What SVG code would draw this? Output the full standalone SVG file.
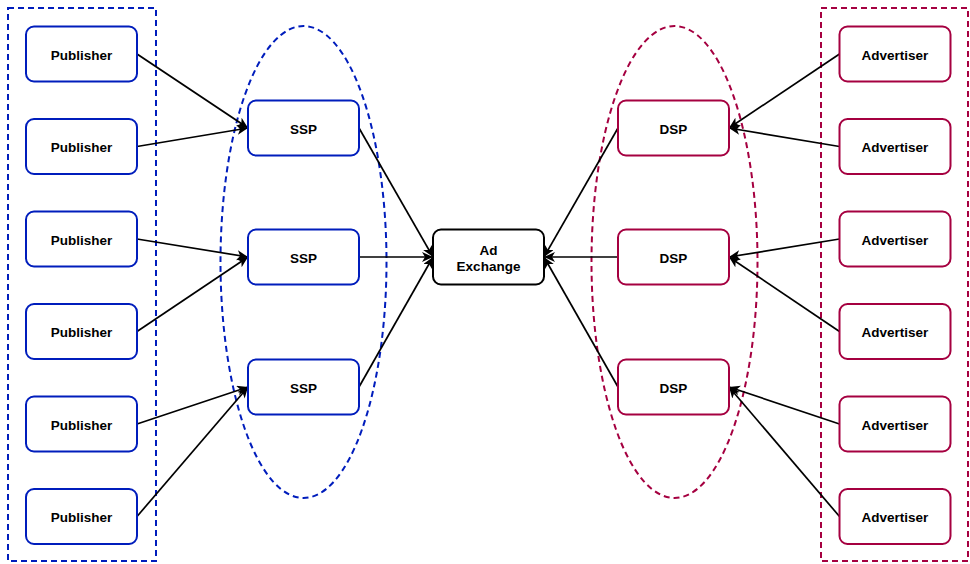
<svg xmlns="http://www.w3.org/2000/svg" width="970" height="564" viewBox="0 0 970 564">
<style>
.pub{fill:#fff;stroke:#001DBC;stroke-width:2}
.adv{fill:#fff;stroke:#A50040;stroke-width:2}
.ex{fill:#fff;stroke:#000;stroke-width:2}
.gb{fill:none;stroke:#001DBC;stroke-width:2;stroke-dasharray:6 4}
.gr{fill:none;stroke:#A50040;stroke-width:2;stroke-dasharray:6 4}
text{font-family:"Liberation Sans",Arial,sans-serif;font-weight:bold;font-size:13.5px;fill:#000;text-anchor:middle;dominant-baseline:central}
.c line{stroke:#000;stroke-width:1.7;marker-end:url(#ah)}
</style>
<defs>
<marker id="ah" markerUnits="userSpaceOnUse" markerWidth="14" markerHeight="12" refX="11" refY="5" orient="auto">
<path d="M0,0 L11,5 L0,10 L3,5 Z" fill="#000"/>
</marker>
</defs>
<rect x="0" y="0" width="970" height="564" fill="#fff"/>
<g id="groups">
<rect class="gb" x="8" y="8" width="148" height="553"/>
<rect class="gr" x="821" y="8" width="147" height="553"/>
<ellipse class="gb" cx="303.5" cy="262" rx="83" ry="236"/>
<ellipse class="gr" cx="674.5" cy="262" rx="83" ry="236"/>
</g>
<g class="c" id="connectors">
<line x1="137" y1="54" x2="248" y2="128"/>
<line x1="137" y1="146.5" x2="248" y2="128"/>
<line x1="137" y1="239" x2="248" y2="257"/>
<line x1="137" y1="331.5" x2="248" y2="257"/>
<line x1="137" y1="424" x2="248" y2="387"/>
<line x1="137" y1="516.5" x2="248" y2="387"/>
<line x1="359" y1="128" x2="433" y2="257"/>
<line x1="359" y1="257" x2="433" y2="257"/>
<line x1="359" y1="387" x2="433" y2="257"/>
<line x1="618" y1="128" x2="544" y2="257"/>
<line x1="618" y1="257" x2="544" y2="257"/>
<line x1="618" y1="387" x2="544" y2="257"/>
<line x1="839.5" y1="54" x2="729" y2="128"/>
<line x1="839.5" y1="146.5" x2="729" y2="128"/>
<line x1="839.5" y1="239" x2="729" y2="257"/>
<line x1="839.5" y1="331.5" x2="729" y2="257"/>
<line x1="839.5" y1="424" x2="729" y2="387"/>
<line x1="839.5" y1="516.5" x2="729" y2="387"/>
</g>
<g id="pub1"><rect class="pub" x="26" y="26.5" width="111" height="55" rx="8"/><text x="81.5" y="55">Publisher</text></g>
<g id="pub2"><rect class="pub" x="26" y="119" width="111" height="55" rx="8"/><text x="81.5" y="147.5">Publisher</text></g>
<g id="pub3"><rect class="pub" x="26" y="211.5" width="111" height="55" rx="8"/><text x="81.5" y="240">Publisher</text></g>
<g id="pub4"><rect class="pub" x="26" y="304" width="111" height="55" rx="8"/><text x="81.5" y="332.5">Publisher</text></g>
<g id="pub5"><rect class="pub" x="26" y="396.5" width="111" height="55" rx="8"/><text x="81.5" y="425">Publisher</text></g>
<g id="pub6"><rect class="pub" x="26" y="489" width="111" height="55" rx="8"/><text x="81.5" y="517.5">Publisher</text></g>
<g id="ssp1"><rect class="pub" x="248" y="100.5" width="111" height="55" rx="8"/><text x="303.5" y="129">SSP</text></g>
<g id="ssp2"><rect class="pub" x="248" y="229.5" width="111" height="55" rx="8"/><text x="303.5" y="258">SSP</text></g>
<g id="ssp3"><rect class="pub" x="248" y="359.5" width="111" height="55" rx="8"/><text x="303.5" y="388">SSP</text></g>
<g id="adx"><rect class="ex" x="433" y="229.5" width="111" height="55" rx="8"/><text x="488.5" y="250">Ad</text><text x="488.5" y="266.5">Exchange</text></g>
<g id="dsp1"><rect class="adv" x="618" y="100.5" width="111" height="55" rx="8"/><text x="673.5" y="129">DSP</text></g>
<g id="dsp2"><rect class="adv" x="618" y="229.5" width="111" height="55" rx="8"/><text x="673.5" y="258">DSP</text></g>
<g id="dsp3"><rect class="adv" x="618" y="359.5" width="111" height="55" rx="8"/><text x="673.5" y="388">DSP</text></g>
<g id="adv1"><rect class="adv" x="839.5" y="26.5" width="111" height="55" rx="8"/><text x="895" y="55">Advertiser</text></g>
<g id="adv2"><rect class="adv" x="839.5" y="119" width="111" height="55" rx="8"/><text x="895" y="147.5">Advertiser</text></g>
<g id="adv3"><rect class="adv" x="839.5" y="211.5" width="111" height="55" rx="8"/><text x="895" y="240">Advertiser</text></g>
<g id="adv4"><rect class="adv" x="839.5" y="304" width="111" height="55" rx="8"/><text x="895" y="332.5">Advertiser</text></g>
<g id="adv5"><rect class="adv" x="839.5" y="396.5" width="111" height="55" rx="8"/><text x="895" y="425">Advertiser</text></g>
<g id="adv6"><rect class="adv" x="839.5" y="489" width="111" height="55" rx="8"/><text x="895" y="517.5">Advertiser</text></g>
</svg>
